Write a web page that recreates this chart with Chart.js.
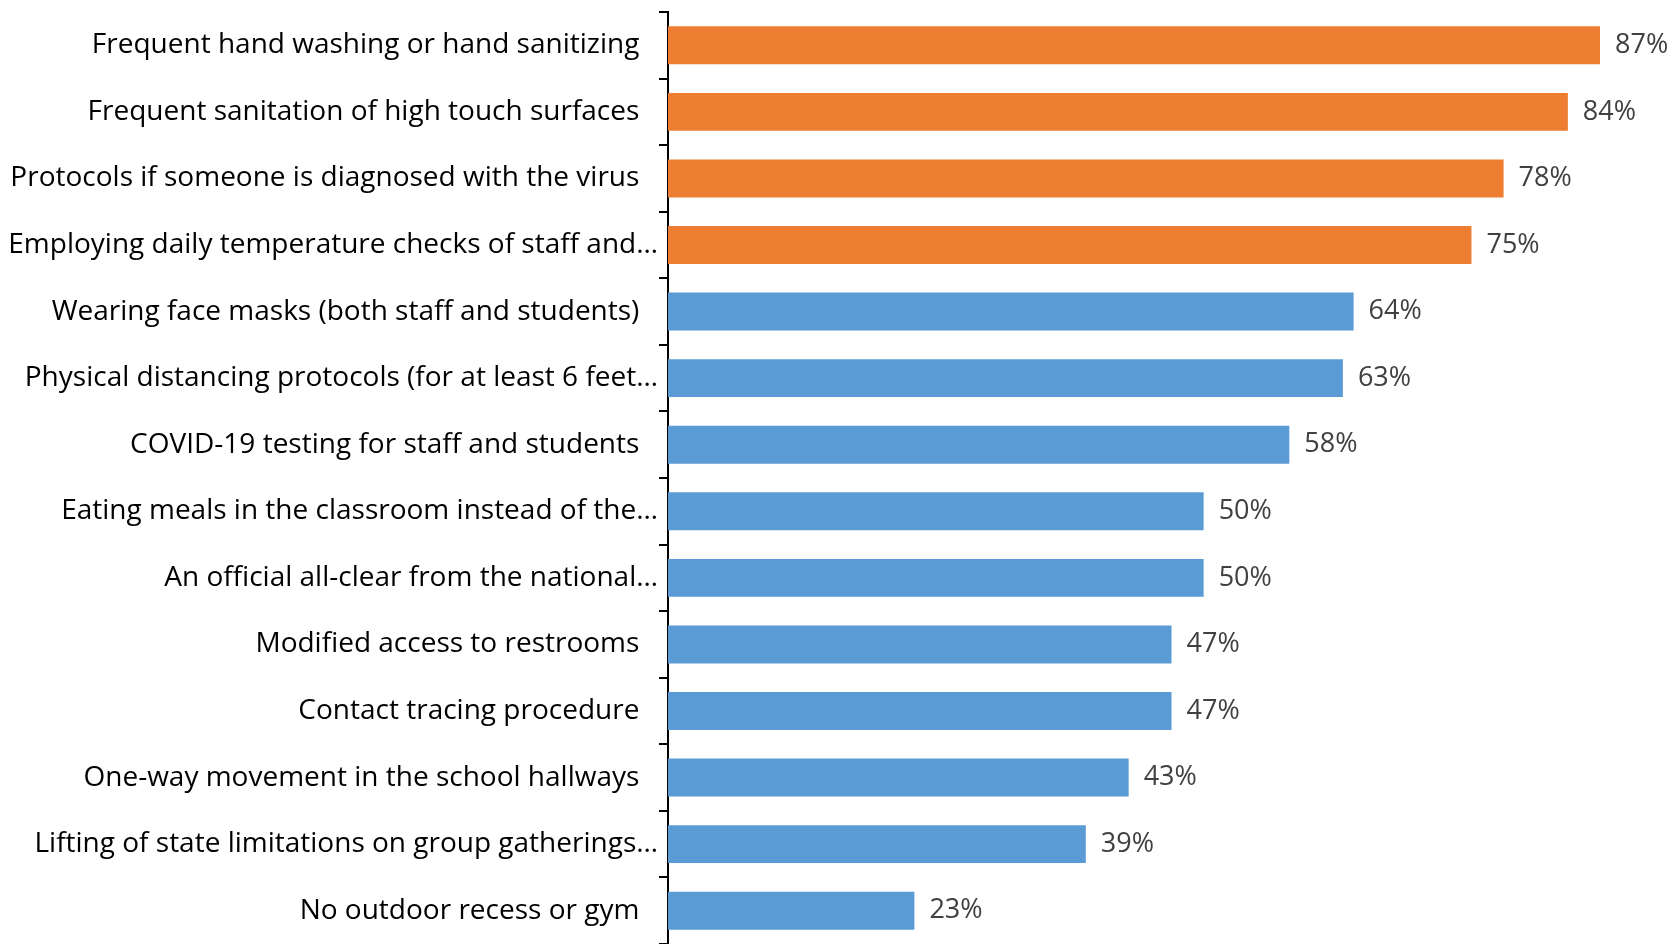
<!DOCTYPE html>
<html>
<head>
<meta charset="utf-8">
<script src="https://cdn.jsdelivr.net/npm/chart.js@4"></script>
<style>
    body { margin: 0; background: #fff; }
    #wrap { width: 1675px; height: 944px; }
</style>
</head>
<body>
<div id="wrap"><canvas id="myChart"></canvas></div>
<script>
// DATOS

const categorias = [
    'Frequent hand washing or hand sanitizing',
    'Frequent sanitation of high touch surfaces',
    'Protocols if someone is diagnosed with the virus',
    'Employing daily temperature checks of staff and…',
    'Wearing face masks (both staff and students)',
    'Physical distancing protocols (for at least 6 feet…',
    'COVID-19 testing for staff and students',
    'Eating meals in the classroom instead of the…',
    'An official all-clear from the national…',
    'Modified access to restrooms',
    'Contact tracing procedure',
    'One-way movement in the school hallways',
    'Lifting of state limitations on group gatherings…',
    'No outdoor recess or gym'
];
const valores = [87, 84, 78, 75, 64, 63, 58, 50, 50, 47, 47, 43, 39, 23];
const destacados = 4; // las primeras barras van en naranjo

const naranjo = '#ED7D31';
const azul = '#5B9BD5';
const colores = valores.map((v, i) => i < destacados ? naranjo : azul);

// Etiquetas de valor al final de cada barra
const etiquetasValor = {
    id: 'etiquetasValor',
    afterDatasetsDraw(chart) {
        const { ctx } = chart;
        const meta = chart.getDatasetMeta(0);
        ctx.save();
        ctx.font = '27px "Open Sans"';
        ctx.fillStyle = '#404040';
        ctx.textAlign = 'left';
        ctx.textBaseline = 'middle';
        meta.data.forEach((bar, i) => {
            ctx.fillText(valores[i] + '%', bar.x + 15, bar.y);
        });
        ctx.restore();
    }
};

const ctx = document.getElementById('myChart').getContext('2d');
const myChart = new Chart(ctx, {
    type: 'bar',
    data: {
        labels: categorias,
        datasets: [{
            data: valores,
            backgroundColor: colores,
            barPercentage: 0.57,
            categoryPercentage: 1
        }]
    },
    options: {
        indexAxis: 'y',
        responsive: true,
        maintainAspectRatio: false,
        animation: false,
        layout: { padding: { top: 12, right: 0, bottom: -2, left: 0 } },
        plugins: {
            legend: { display: false },
            tooltip: { enabled: false }
        },
        scales: {
            x: {
                display: false,
                min: 0,
                max: 94
            },
            y: {
                afterFit: (scale) => {
                    scale.width = 668;
                    scale.paddingTop = 0;
                    scale.paddingBottom = 0;
                },
                border: { color: '#000', width: 2 },
                grid: {
                    drawOnChartArea: false,
                    color: '#000',
                    lineWidth: 2,
                    tickLength: 9,
                    offset: true
                },
                ticks: {
                    padding: 1,
                    color: '#000',
                    font: { family: 'Open Sans', size: 28 },
                    callback: function (value) {
                        const txt = this.getLabelForValue(value);
                        // los textos completos quedan un poco separados del eje
                        return txt.endsWith('…') ? txt : txt + '\u2002\u2009';
                    }
                }
            }
        }
    },
    plugins: [etiquetasValor]
});
</script>
</body>
</html>
